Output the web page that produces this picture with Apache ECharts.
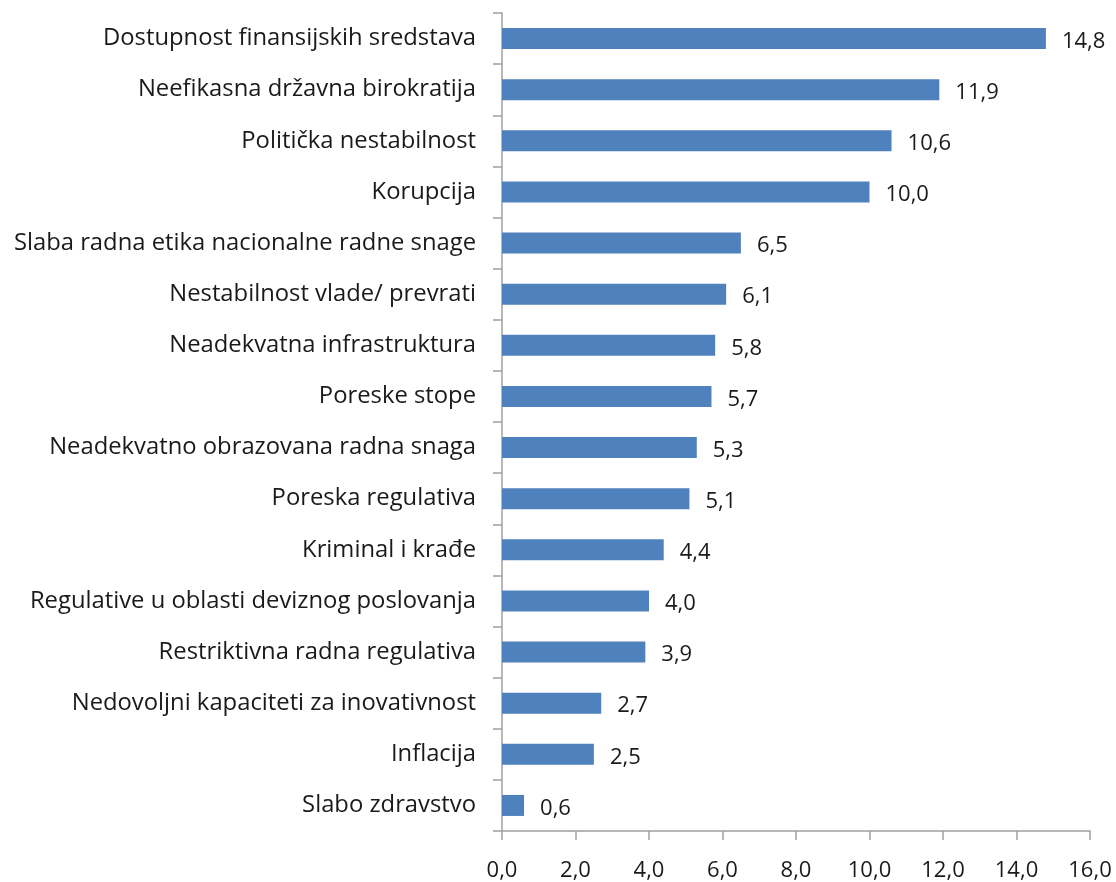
<!DOCTYPE html>
<html>
<head>
<meta charset="utf-8">
<script src="https://cdn.jsdelivr.net/npm/echarts@6/dist/echarts.min.js"></script>
<style>
  html, body { margin: 0; padding: 0; background: #fff; }
  #main { width: 1116px; height: 882px; }
</style>
</head>
<body>
<div id="main"></div>
<script>
// kategorije, odozgo nadole
var categories = [
  'Dostupnost finansijskih sredstava',
  'Neefikasna državna birokratija',
  'Politička nestabilnost',
  'Korupcija',
  'Slaba radna etika nacionalne radne snage',
  'Nestabilnost vlade/ prevrati',
  'Neadekvatna infrastruktura',
  'Poreske stope',
  'Neadekvatno obrazovana radna snaga',
  'Poreska regulativa',
  'Kriminal i krađe',
  'Regulative u oblasti deviznog poslovanja',
  'Restriktivna radna regulativa',
  'Nedovoljni kapaciteti za inovativnost',
  'Inflacija',
  'Slabo zdravstvo'
];
var values = [14.8, 11.9, 10.6, 10.0, 6.5, 6.1, 5.8, 5.7, 5.3, 5.1, 4.4, 4.0, 3.9, 2.7, 2.5, 0.6];
var xTicks = [0, 2, 4, 6, 8, 10, 12, 14, 16];

function fmt(v) {
  return Number(v).toFixed(1).replace('.', ',');
}

var myChart = echarts.init(document.getElementById('main'));
var axisColor = '#a0a0a0';
var font = 'Open Sans';

myChart.setOption({
  animation: false,
  grid: { left: 502, right: 26, top: 13, bottom: 50, containLabel: false },
  xAxis: {
    type: 'value',
    min: xTicks[0],
    max: xTicks[xTicks.length - 1],
    interval: 2,
    splitLine: { show: false },
    axisLine: { show: true, lineStyle: { color: axisColor, width: 1.5 } },
    axisTick: { show: true, length: 9, lineStyle: { color: axisColor, width: 1.5 } },
    axisLabel: {
      formatter: fmt,
      color: '#1a1a1a',
      fontFamily: font,
      fontSize: 22,
      margin: 29
    }
  },
  yAxis: {
    type: 'category',
    data: categories,
    inverse: true,
    axisLine: { show: true, lineStyle: { color: axisColor, width: 1.5 } },
    axisTick: { show: true, length: 9, lineStyle: { color: axisColor, width: 1.5 } },
    axisLabel: {
      color: '#1a1a1a',
      fontFamily: font,
      fontSize: 23.8,
      margin: 26
    }
  },
  series: [{
    type: 'bar',
    data: values,
    barWidth: 21,
    itemStyle: { color: '#4f81bd' },
    label: {
      show: true,
      position: 'right',
      distance: 16,
      offset: [0, 3],
      formatter: function (p) { return fmt(p.value); },
      color: '#1a1a1a',
      fontFamily: font,
      fontSize: 22
    }
  }]
});
</script>
</body>
</html>
